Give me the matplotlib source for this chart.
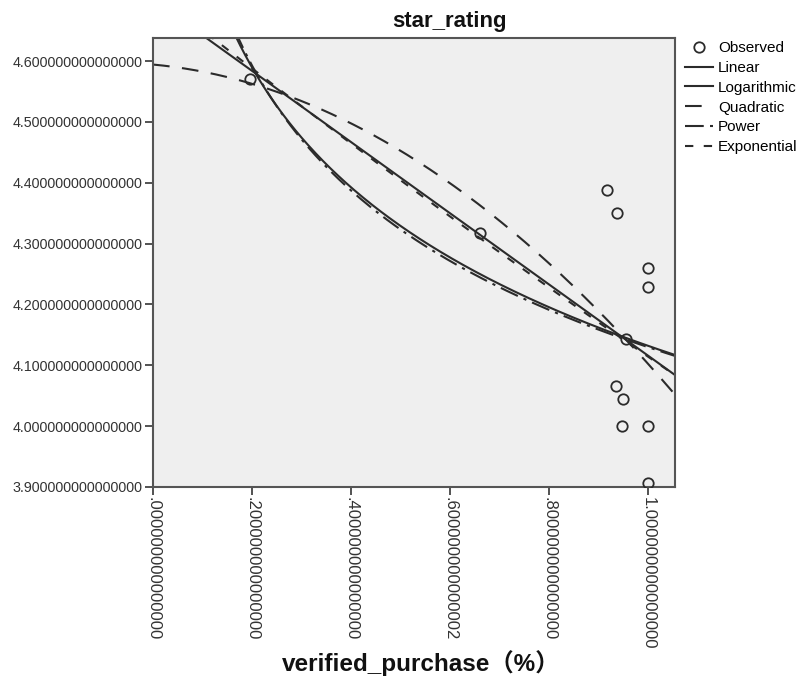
import numpy as np
import matplotlib
matplotlib.use("Agg")
from matplotlib import pyplot as plt

# observed points (verified_purchase, star_rating)
verified = [0.196, 0.661, 0.918, 0.937, 1.0, 1.0, 0.955, 0.935, 0.949, 0.947, 1.0, 1.0]
rating = [4.570, 4.318, 4.388, 4.350, 4.260, 4.228, 4.143, 4.066, 4.044, 4.000, 4.000, 3.906]

y_ticks = [3.9, 4.0, 4.1, 4.2, 4.3, 4.4, 4.5, 4.6]
y_labels = ["3.900000000000000", "4.000000000000000", "4.100000000000000",
            "4.200000000000000", "4.300000000000000", "4.400000000000000",
            "4.500000000000000", "4.600000000000000"]
x_ticks = [0.0, 0.2, 0.4, 0.6, 0.8, 1.0]
x_labels = [".000000000000000", ".200000000000000", ".400000000000000",
            ".600000000000002", ".800000000000000", "1.000000000000000"]

x = np.array(verified)
y = np.array(rating)

# curve estimation, same models as the SPSS output
lin = np.polyfit(x, y, 1)
quad = np.polyfit(x, y, 2)
logc = np.polyfit(np.log(x), y, 1)
powc = np.polyfit(np.log(x), np.log(y), 1)
expc = np.polyfit(x, np.log(y), 1)

xs = np.linspace(0.0, 1.06, 400)
xp = np.linspace(0.05, 1.06, 400)

fig = plt.figure(figsize=(7.99, 6.89), dpi=100)
ax = fig.add_axes([0.1915, 0.2932, 0.6533, 0.6516])
ax.set_facecolor("#efefef")

ink = "#2b2b2b"
ax.plot(x, y, "o", ms=7.5, mfc="none", mec=ink, mew=1.3, label="Observed", zorder=5)
ax.plot(xs, np.polyval(lin, xs), color=ink, lw=1.5, ls="-", label="Linear")
ax.plot(xp, np.polyval(logc, np.log(xp)), color=ink, lw=1.5, ls="-", label="Logarithmic")
ax.plot(xs, np.polyval(quad, xs), color=ink, lw=1.5, ls=(0, (8, 6)), label="Quadratic")
ax.plot(xp, np.exp(np.polyval(powc, np.log(xp))), color=ink, lw=1.5,
        ls=(0, (9, 3, 1.5, 3)), label="Power")
ax.plot(xs, np.exp(np.polyval(expc, xs)), color=ink, lw=1.5, ls=(0, (4, 5)), label="Exponential")

ax.set_xlim(0, 1.055)
ax.set_ylim(3.9, 4.638)
ax.set_xticks(x_ticks)
ax.set_xticklabels(x_labels, rotation=-90, fontsize=12, color="#333333",
                   family="Liberation Sans", va="top")
ax.set_yticks(y_ticks)
ax.set_yticklabels(y_labels, fontsize=10.3, color="#333333", family="Liberation Sans")
ax.tick_params(direction="out", length=6, width=1.3, color="#444444", pad=1.5)
for s in ax.spines.values():
    s.set_color("#555555")
    s.set_linewidth(1.5)

fig.text(0.563, 0.961, "star_rating", fontsize=16, fontweight="bold",
         family="Liberation Sans", ha="center", va="baseline", color="#111111")
fig.text(0.527, 0.038, "verified_purchase（%）", fontsize=17.5, fontweight="bold",
         family=["Liberation Sans", "Noto Sans CJK SC"], ha="center", va="center",
         color="#111111")

leg = ax.legend(loc="upper left", bbox_to_anchor=(1.019, 0.993), frameon=False,
                prop={"family": "Liberation Sans", "size": 11}, handlelength=1.85,
                handletextpad=0.3, labelspacing=0.38, borderaxespad=0, borderpad=0)

fig.savefig("out.png", dpi=100)
